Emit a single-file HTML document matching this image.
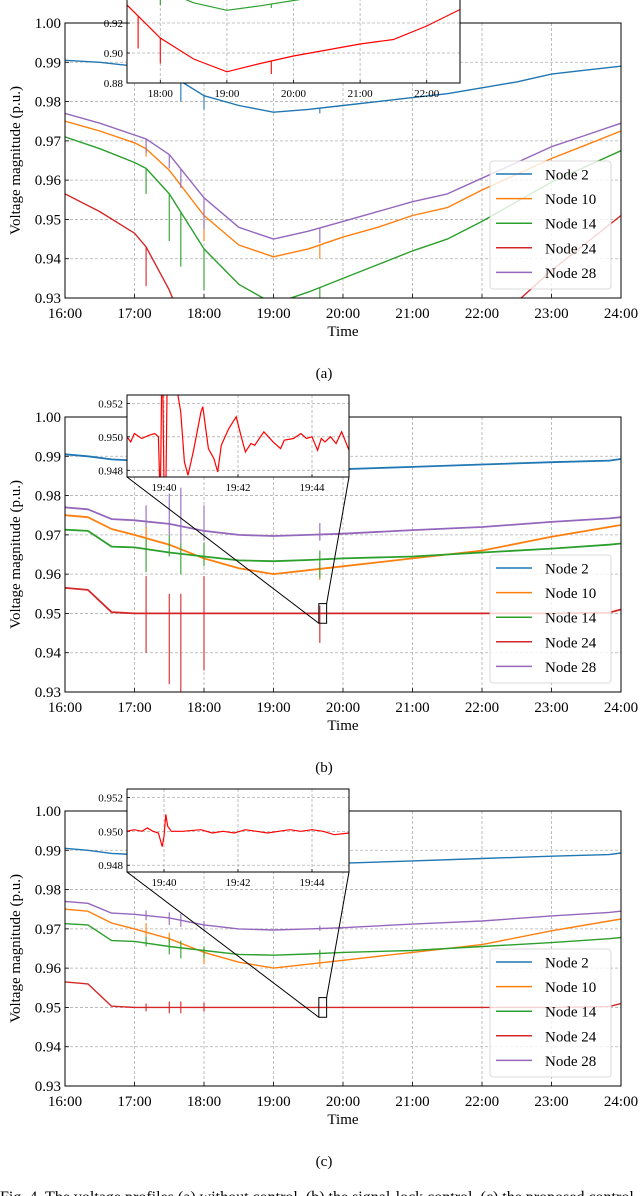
<!DOCTYPE html>
<html><head><meta charset="utf-8"><style>
html,body{margin:0;padding:0;background:#fff;}
svg{display:block;font-family:"Liberation Serif",serif;}
</style></head><body>
<svg id="fig" width="640" height="1196" viewBox="0 0 640 1196" xmlns="http://www.w3.org/2000/svg"></svg>
<script>
// ---------- data ----------
const nodeNames = ["Node 2","Node 10","Node 14","Node 24","Node 28"];
const nodeColors = ["#1f77b4","#ff7f0e","#2ca02c","#d62728","#9467bd"];
const xTickLabels = ["16:00","17:00","18:00","19:00","20:00","21:00","22:00","23:00","24:00"];
const yTickLabels = ["0.93","0.94","0.95","0.96","0.97","0.98","0.99","1.00"];
// panel (a): without control
const hoursA = [16,16.5,17,17.1667,17.5,18,18.5,19,19.5,20,20.5,21,21.5,22,22.5,23,23.5,24];
const n2A  = [0.9905,0.990,0.989,0.9885,0.987,0.9815,0.979,0.9773,0.978,0.979,0.980,0.981,0.982,0.9835,0.985,0.987,0.988,0.989];
const n10A = [0.975,0.9725,0.9695,0.968,0.9625,0.951,0.9435,0.9405,0.9425,0.9455,0.948,0.951,0.953,0.9575,0.9615,0.9655,0.969,0.9725];
const n14A = [0.971,0.968,0.9645,0.963,0.9565,0.9425,0.9335,0.9285,0.9315,0.935,0.9385,0.942,0.945,0.9495,0.9545,0.9595,0.9635,0.9675];
const n24A = [0.9565,0.952,0.9465,0.943,0.932,0.910,0.896,0.8875,0.893,0.898,0.902,0.906,0.909,0.918,0.929,0.937,0.944,0.951];
const n28A = [0.977,0.9745,0.9715,0.9705,0.9665,0.9555,0.948,0.945,0.947,0.9495,0.952,0.9545,0.9565,0.9605,0.9645,0.9685,0.9715,0.9745];
// spikes in (a): [hour, node index, lowest value]
const spikesA = [[17.1667,1,0.966],[17.1667,2,0.9565],[17.1667,3,0.933],[17.1667,4,0.967],
  [17.5,2,0.9445],[17.5,4,0.963],[17.6667,2,0.938],[17.6667,4,0.958],[17.6667,3,0.903],[17.6667,0,0.980],
  [18,0,0.978],[18,1,0.9445],[18,2,0.932],[18,4,0.9475],[18,3,0.893],
  [19.6667,0,0.977],[19.6667,1,0.940],[19.6667,2,0.930],[19.6667,4,0.944],[19.6667,3,0.886]];
// panels (b),(c): controlled
const hoursC = [16,16.33,16.67,17,17.5,18,18.5,19,19.5,20,21,22,23,23.83,24];
const n2C  = [0.9905,0.990,0.9892,0.9889,0.988,0.9875,0.987,0.9868,0.9866,0.9867,0.9873,0.9879,0.9885,0.9889,0.9893];
const n10C = [0.975,0.9745,0.9715,0.970,0.9675,0.964,0.9615,0.960,0.961,0.962,0.964,0.966,0.9695,0.972,0.9725];
const n14C = [0.9713,0.971,0.967,0.9668,0.9655,0.9645,0.9635,0.9633,0.9636,0.964,0.9645,0.9655,0.9665,0.9675,0.9678];
const n24C = [0.9565,0.956,0.9503,0.950,0.950,0.950,0.950,0.950,0.950,0.950,0.950,0.950,0.950,0.9502,0.951];
const n28C = [0.977,0.9765,0.974,0.9737,0.9728,0.971,0.970,0.9697,0.970,0.9703,0.9712,0.972,0.9733,0.9742,0.9745];
// spikes [hour, node, high, low]
const spikesB = [[17.1667,4,0.9775,0.970],[17.1667,1,0.972,0.966],[17.1667,2,0.969,0.9605],[17.1667,3,0.9595,0.940],
  [17.5,4,0.9805,0.970],[17.5,2,0.970,0.9645],[17.5,3,0.955,0.932],
  [17.6667,4,0.982,0.968],[17.6667,2,0.968,0.960],[17.6667,3,0.955,0.930],
  [18,4,0.9775,0.9685],[18,2,0.968,0.962],[18,3,0.9595,0.9355],
  [19.6667,4,0.973,0.9685],[19.6667,1,0.963,0.9585],[19.6667,2,0.966,0.959],[19.6667,3,0.952,0.9425]];
const spikesC = [[17.1667,4,0.9747,0.9722],[17.1667,1,0.9715,0.968],[17.1667,2,0.968,0.9655],[17.1667,3,0.951,0.949],
  [17.5,4,0.9742,0.971],[17.5,1,0.969,0.9665],[17.5,2,0.9675,0.9635],[17.5,3,0.9515,0.9485],
  [17.6667,4,0.9738,0.9705],[17.6667,2,0.967,0.9625],[17.6667,3,0.9515,0.9485],
  [18,4,0.972,0.9695],[18,1,0.9655,0.961],[18,2,0.9655,0.9625],[18,3,0.9512,0.949],
  [19.6667,4,0.9708,0.9695],[19.6667,1,0.9625,0.9602],[19.6667,2,0.9647,0.9625]];
// zoom insets (minutes after 19:39)
const minB = [0,0.1,0.2,0.4,0.6,0.75,0.85,0.9,0.95,1.0,1.05,1.1,1.3,1.45,1.55,1.65,1.8,2.0,2.05,2.2,2.35,2.45,2.55,2.75,2.95,3.1,3.2,3.35,3.45,3.7,3.95,4.15,4.25,4.5,4.7,4.85,5.0,5.15,5.25,5.35,5.5,5.65,5.8,6.0];
const valB = [0.9500,0.9497,0.9502,0.9499,0.9501,0.9502,0.9500,0.9460,0.9560,0.9470,0.9465,0.9560,0.9535,0.9515,0.9485,0.9477,0.9492,0.9515,0.9518,0.9493,0.9487,0.9479,0.9495,0.9505,0.9512,0.9499,0.9491,0.9496,0.9495,0.9503,0.9497,0.9493,0.9498,0.9499,0.9502,0.9499,0.9500,0.9492,0.9499,0.9497,0.9500,0.9496,0.9503,0.9492];
const minC = [0,0.2,0.4,0.55,0.7,0.85,0.95,1.0,1.05,1.1,1.2,1.5,2.0,2.3,2.6,2.9,3.2,3.5,3.8,4.1,4.4,4.7,5.0,5.3,5.6,6.0];
const valC = [0.9500,0.9501,0.9500,0.9502,0.9500,0.9499,0.9491,0.9497,0.9510,0.9503,0.9500,0.9500,0.9501,0.9499,0.9500,0.9499,0.9501,0.9500,0.9499,0.9500,0.9501,0.9500,0.9501,0.9500,0.9498,0.9499];
const insetYTicksA = ["0.88","0.90","0.92"];
const insetXTicksA = ["18:00","19:00","20:00","21:00","22:00"];
const insetYTicksZ = ["0.948","0.950","0.952"];
const insetXTicksZ = ["19:40","19:42","19:44"];

// ---------- drawing ----------
const NS="http://www.w3.org/2000/svg";
const svg=document.getElementById('fig');
function el(tag,attrs,parent){const e=document.createElementNS(NS,tag);for(const k in attrs)e.setAttribute(k,attrs[k]);(parent||svg).appendChild(e);return e;}
function txt(s,attrs,parent){const e=el('text',attrs,parent);e.textContent=s;return e;}

const X0=65,X1=621,PH=275;
function drawPanel(off,label,series,hours,spikes,spikeMode,sw){
  const top=23+off, bot=top+PH;
  const g=el('g',{});
  
  
  const xs=h=>X0+(h-16)*(X1-X0)/8;
  const ys=v=>top+(1.0-v)*PH/0.07;
  xTickLabels.forEach((t,i)=>{const x=xs(16+i);
    if(i>0&&i<8){const l=el('line',{x1:x,x2:x,y1:top,y2:bot,stroke:'#b0b0b0','stroke-width':0.8,'stroke-dasharray':'3,2'},g);}
    const tl=txt(t,{x:x,y:bot+20,'font-size':15,'text-anchor':'middle',fill:'#000'},g);
    
    el('line',{x1:x,x2:x,y1:bot,y2:bot-4,stroke:'#000','stroke-width':0.8},g);
  });
  yTickLabels.forEach((t,i)=>{const y=ys(0.93+i*0.01);
    if(i>0&&i<7){const l=el('line',{x1:X0,x2:X1,y1:y,y2:y,stroke:'#b0b0b0','stroke-width':0.8,'stroke-dasharray':'3,2'},g);}
    const tl=txt(t,{x:X0-4,y:y+5,'font-size':15,'text-anchor':'end',fill:'#000'},g);
    
    el('line',{x1:X0,x2:X0+4,y1:y,y2:y,stroke:'#000','stroke-width':0.8},g);
  });
  const cid='clip'+label;
  const cp=el('clipPath',{id:cid},g);el('rect',{x:X0,y:top,width:X1-X0,height:PH},cp);
  const lg=el('g',{'clip-path':'url(#'+cid+')'},g);
  series.forEach((vals,k)=>{
    const d=vals.map((v,i)=>(i?'L':'M')+xs(hours[i]).toFixed(1)+','+ys(v).toFixed(1)).join('');
    const p=el('path',{d:d,fill:'none',stroke:nodeColors[k],'stroke-width':sw,'stroke-linejoin':'round'},lg);
    
    
  });
  spikes.forEach(s=>{
    const x=xs(s[0]);let y1,y2;
    if(spikeMode==='down'){const vals=series[s[1]];let i=0;while(i<hours.length-2&&hours[i+1]<s[0])i++;
      const f=(s[0]-hours[i])/(hours[i+1]-hours[i]);const v=vals[i]+(vals[i+1]-vals[i])*f;y1=ys(v);y2=ys(s[2]);}
    else{y1=ys(s[2]);y2=ys(s[3]);}
    const l=el('line',{x1:x,x2:x,y1:y1,y2:y2,stroke:nodeColors[s[1]],'stroke-width':1.1},lg);
    
  });
  const fr=el('rect',{x:X0,y:top,width:X1-X0,height:PH,fill:'none',stroke:'#000','stroke-width':1},g);
  
  const yt=txt('Voltage magnitude (p.u.)',{x:0,y:0,'font-size':15,'text-anchor':'middle',transform:'translate(20,'+(top+PH/2)+') rotate(-90)'},g);
  
  const xt=txt('Time',{x:343,y:bot+38,'font-size':15,'text-anchor':'middle'},g);
  
  const cap=txt('('+label+')',{x:324,y:bot+80,'font-size':15,'text-anchor':'middle'},g);
  
  const lgd=el('g',{},g);
  
  el('rect',{x:490,y:top+138,width:121,height:128,rx:3,fill:'#fff','fill-opacity':0.8,stroke:'#d0d0d0','stroke-width':0.8},lgd);
  nodeNames.forEach((n,k)=>{const y=top+151+k*24.6;
    const e=el('g',{},lgd);
    el('line',{x1:496,x2:532,y1:y,y2:y,stroke:nodeColors[k],'stroke-width':1.5},e);
    txt(n,{x:545,y:y+5.5,'font-size':15},e);});
  return {xs,ys,top,bot,g};
}

function drawInset(g,name,ix0,ix1,iy0,iy1,xmin,xmax,vmin,vmax,lines,yt,ytv,xt,xtv){
  const ig=el('g',{},g);
  el('rect',{x:ix0,y:iy0,width:ix1-ix0,height:iy1-iy0,fill:'#fff'},ig);
  const xs=t=>ix0+(t-xmin)/(xmax-xmin)*(ix1-ix0);
  const ys=v=>iy1-(v-vmin)/(vmax-vmin)*(iy1-iy0);
  xtv.forEach((t,i)=>{const x=xs(t);
    el('line',{x1:x,x2:x,y1:iy0,y2:iy1,stroke:'#b0b0b0','stroke-width':0.8,'stroke-dasharray':'3,2'},ig);
    el('line',{x1:x,x2:x,y1:iy1,y2:iy1-3,stroke:'#000','stroke-width':0.8},ig);
    const l=txt(xt[i],{x:x,y:iy1+14,'font-size':11,'text-anchor':'middle'},ig);});
  ytv.forEach((v,i)=>{const y=ys(v);
    el('line',{x1:ix0,x2:ix1,y1:y,y2:y,stroke:'#b0b0b0','stroke-width':0.8,'stroke-dasharray':'3,2'},ig);
    el('line',{x1:ix0,x2:ix0+3,y1:y,y2:y,stroke:'#000','stroke-width':0.8},ig);
    const l=txt(yt[i],{x:ix0-4,y:y+4,'font-size':11,'text-anchor':'end'},ig);});
  const cid='ic'+name;const cp=el('clipPath',{id:cid},ig);el('rect',{x:ix0,y:iy0,width:ix1-ix0,height:iy1-iy0},cp);
  const lg=el('g',{'clip-path':'url(#'+cid+')'},ig);
  lines.forEach(L=>{
    const d=L.t.map((t,i)=>(i?'L':'M')+xs(t).toFixed(1)+','+ys(L.v[i]).toFixed(1)).join('');
    const p=el('path',{d:d,fill:'none',stroke:L.c,'stroke-width':1.2},lg);
    
    (L.s||[]).forEach(s=>{
      let i=0;while(i<L.t.length-2&&L.t[i+1]<s[0])i++;const f=(s[0]-L.t[i])/(L.t[i+1]-L.t[i]);const v=L.v[i]+(L.v[i+1]-L.v[i])*f;
      const sp=el('line',{x1:xs(s[0]),x2:xs(s[0]),y1:ys(v),y2:ys(s[2]),stroke:L.c,'stroke-width':1.1},lg);
      });
  });
  el('rect',{x:ix0,y:iy0,width:ix1-ix0,height:iy1-iy0,fill:'none',stroke:'#000','stroke-width':1},ig);
}

const pa=drawPanel(0,'a',[n2A,n10A,n14A,n24A,n28A],hoursA,spikesA,'down',1.4);
drawInset(pa.g,'inset-a',127,460,-2,83,17.5,22.5,0.88,0.9367,
  [{t:hoursA,v:n14A,c:'#2ca02c',s:spikesA.filter(s=>s[1]===2)},{t:hoursA,v:n24A,c:'#ff0000',s:spikesA.filter(s=>s[1]===3)}],
  insetYTicksA,[0.88,0.90,0.92],insetXTicksA,[18,19,20,21,22]);
const pb=drawPanel(394,'b',[n2C,n10C,n14C,n24C,n28C],hoursC,spikesB,'range',1.8);
const pc=drawPanel(788,'c',[n2C,n10C,n14C,n24C,n28C],hoursC,spikesC,'range',1.4);

function zoomBox(p,iy0,iy1,name,mins,vals){
  const bx0=p.xs(19+40/60),bx1=p.xs(19+45/60);
  const by0=p.ys(0.9525),by1=p.ys(0.9475);
  const r=el('rect',{x:bx0-1,y:by0,width:bx1-bx0+2,height:by1-by0,fill:'none',stroke:'#000','stroke-width':1},p.g);
  
  el('line',{x1:127,y1:iy1,x2:bx0-1,y2:by1,stroke:'#000','stroke-width':1},p.g);
  el('line',{x1:349,y1:iy1,x2:bx1+1,y2:by0,stroke:'#000','stroke-width':1},p.g);
  drawInset(p.g,name,127,349,iy0,iy1,0,6,0.9476,0.9525,[{t:mins,v:vals,c:'#ff0000'}],
    insetYTicksZ,[0.948,0.950,0.952],insetXTicksZ,[1,3,5]);
}
zoomBox(pb,395,477,'inset-b',minB,valB);
zoomBox(pc,789,872,'inset-c',minC,valC);

const fc=txt('Fig. 4.  The voltage profiles (a) without control, (b) the signal-lock control, (c) the proposed control',{x:0,y:1202,'font-size':16});

</script>
</body></html>
